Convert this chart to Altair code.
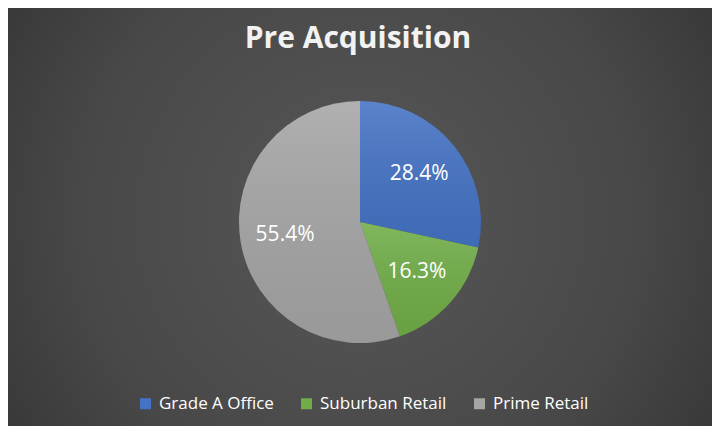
import altair as alt
import pandas as pd

title_text = "Pre Acquisition"
categories = ["Grade A Office", "Suburban Retail", "Prime Retail"]
values = [28.4, 16.3, 55.4]
labels = ["28.4%", "16.3%", "55.4%"]
colors = ["#4472C4", "#70AD47", "#A5A5A5"]

df = pd.DataFrame({
    "category": categories,
    "value": values,
    "label": labels,
    "order": list(range(len(categories))),
})
title_df = pd.DataFrame({"t": [title_text]})

W, H = 704, 418
PAD_TOP = 60
VH = H - PAD_TOP
CX, CY = 352, 154
R = 121

base = alt.Chart(df)

bg = alt.Chart(pd.DataFrame({"a": [0]})).mark_rect(
    color=alt.Gradient(
        gradient="radial",
        stops=[alt.GradientStop(color="#575757", offset=0),
               alt.GradientStop(color="#484848", offset=0.55),
               alt.GradientStop(color="#2e2e2e", offset=1)],
        x1=0.5, y1=0.5, r1=0, x2=0.5, y2=0.5, r2=0.72,
    )
).encode(
    x=alt.value(0), x2=alt.value(W),
    y=alt.value(-PAD_TOP), y2=alt.value(VH),
)

title = alt.Chart(title_df).mark_text(
    color="#f2f2f2", fontSize=30, font="Open Sans",
    fontWeight="bold", align="center", baseline="alphabetic",
).encode(text="t:N", x=alt.value(350), y=alt.value(-20))

theta = alt.Theta("value:Q", stack=True)
order = alt.Order("order:Q")

arcs = base.mark_arc(radius=R, stroke=None).encode(
    theta=theta,
    order=order,
    x=alt.value(CX), y=alt.value(CY),
    color=alt.Color(
        "category:N",
        scale=alt.Scale(domain=categories, range=colors),
        sort=categories,
        legend=alt.Legend(
            title=None, orient="none", direction="horizontal",
            legendX=129, legendY=VH - 31,
            symbolType="square", symbolSize=121, symbolStrokeWidth=0,
            labelColor="#ffffff", labelFontSize=17, labelFont="Open Sans",
            columnPadding=24, labelOffset=5,
        ),
    ),
)

shade = base.mark_arc(
    radius=R,
    color=alt.Gradient(
        gradient="linear",
        stops=[alt.GradientStop(color="rgba(255,255,255,0.12)", offset=0),
               alt.GradientStop(color="rgba(0,0,0,0.07)", offset=1)],
        x1=0, y1=0, x2=0, y2=1,
    ),
).encode(
    theta=theta,
    order=order,
    x=alt.value(CX), y=alt.value(CY),
)

text = base.mark_text(
    radius=76, color="#ffffff", fontSize=21, font="Open Sans",
    fontWeight=500, align="center", baseline="middle",
).encode(
    theta=theta,
    order=order,
    text="label:N",
    x=alt.value(CX), y=alt.value(CY),
)

chart = alt.layer(bg, title, arcs, shade, text).properties(
    width=W, height=VH,
    autosize=alt.AutoSizeParams(type="none"),
    padding={"top": PAD_TOP, "left": 0, "right": 0, "bottom": 0},
).configure(background="#3a3a3a").configure_view(stroke=None)

chart.save("out.html", embed_options={"renderer": "svg", "actions": False})
